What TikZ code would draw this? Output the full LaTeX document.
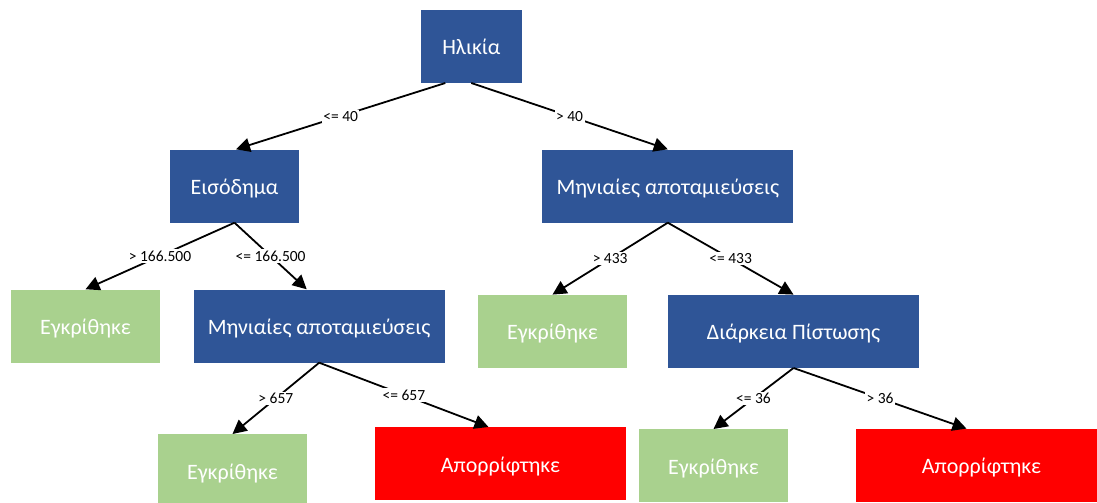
\documentclass[tikz,border=0pt]{standalone}
\usepackage{fontspec}
\setmainfont{Carlito}
\usetikzlibrary{arrows.meta}
\definecolor{nodeblue}{HTML}{2F5597}
\definecolor{leafgreen}{HTML}{A9D18E}
\definecolor{leafred}{HTML}{FF0000}
\tikzset{
  box/.style={rectangle, draw=none, text=white, minimum height=73pt, inner sep=0pt,
    text height=20pt, text depth=3pt, font=\fontsize{22}{26}\selectfont},
  narrow/.style={box, minimum width=149pt},
  wide/.style={box, minimum width=251pt},
  split/.style={wide, fill=nodeblue},
  yes/.style={narrow, fill=leafgreen},
  no/.style={wide, fill=leafred},
  edge/.style={line width=1.8pt, -{Triangle[length=14pt,width=14pt]}},
  lbl/.style={fill=white, inner sep=1.5pt, text=black, font=\fontsize{15.5}{18}\selectfont, midway}
}
\begin{document}
\begin{tikzpicture}[x=1pt, y=-1pt]
\useasboundingbox (0,0) rectangle (1097,503);
\begin{scope}
\clip (0,0) rectangle (1097,503);
% root and inner decision nodes
\node[box, fill=nodeblue, minimum width=101pt] (age) at (471.3,46.3) {Ηλικία};
\node[box, fill=nodeblue, minimum width=129pt] (income) at (234.5,186) {Εισόδημα};
\node[split] (saveR) at (667.8,186) {Μηνιαίες αποταμιεύσεις};
\node[split] (saveL) at (319.2,326) {Μηνιαίες αποταμιεύσεις};
\node[split] (term) at (793.5,331.3) {Διάρκεια Πίστωσης};
% leaves
\node[yes] (ok1) at (85.5,326) {Εγκρίθηκε};
\node[yes] (ok2) at (552.5,331.3) {Εγκρίθηκε};
\node[yes] (ok3) at (232.5,470.7) {Εγκρίθηκε};
\node[yes] (ok4) at (713.5,465.7) {Εγκρίθηκε};
\node[no] (rej1) at (500.5,463.7) {Απορρίφτηκε};
\node[no] (rej2) at (981.5,465.3) {Απορρίφτηκε};
\end{scope}
% branches
\draw[edge] ([xshift=-26pt]age.south) -- node[lbl] {<= 40} ([xshift=1.5pt]income.north);
\draw[edge] (age.south) -- node[lbl] {> 40} (saveR.north);
\draw[edge] (income.south) -- node[lbl] {> 166.500} (ok1.north);
\draw[edge] (income.south) -- node[lbl] {<= 166.500} ([xshift=-12.5pt]saveL.north);
\draw[edge] (saveL.south) -- node[lbl] {> 657} (ok3.north);
\draw[edge] (saveL.south) -- node[lbl] {<= 657} ([xshift=-12pt]rej1.north);
\draw[edge] (saveR.south) -- node[lbl] {> 433} (ok2.north);
\draw[edge] (saveR.south) -- node[lbl] {<= 433} (term.north);
\draw[edge] (term.south) -- node[lbl] {<= 36} (ok4.north);
\draw[edge] (term.south) -- node[lbl] {> 36} ([xshift=-15pt]rej2.north);
\end{tikzpicture}
\end{document}
